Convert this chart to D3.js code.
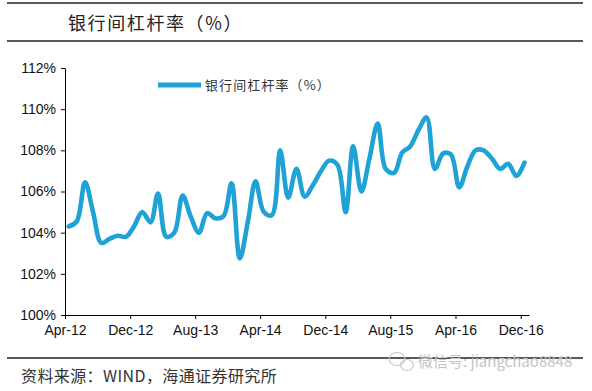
<!DOCTYPE html>
<html>
<head>
<meta charset="utf-8">
<script src="https://cdn.jsdelivr.net/npm/d3@7"></script>
<style>
  body { margin: 0; background: #fff; }
  svg text { font-family: "Liberation Sans", Arial, sans-serif; }
  .cjk { font-family: "Noto Sans CJK SC", sans-serif; }
</style>
</head>
<body>
<div id="chart-area"></div>
<script>

// Monthly interbank leverage ratio, Apr-12 .. Dec-16
var startMonth = new Date(2012, 3, 1),
    endMonth = new Date(2017, 0, 1);

var leverage = [
  104.3, 104.55, 106.45, 105.0, 103.5, 103.7, 103.85, 103.8, 104.3, 105.0,
  104.5, 105.9, 103.8, 104.0, 105.8, 104.8, 104.0, 104.95, 104.7, 104.8,
  106.4, 102.75, 104.6, 106.5, 105.0, 104.85, 108.0, 105.7, 107.1, 105.75,
  106.3, 107.0, 107.5, 107.3, 105.0, 108.2, 106.0, 107.6, 109.3, 107.1,
  106.9, 107.9, 108.2, 109.0, 109.6, 107.1, 107.85, 107.8, 106.2, 107.2,
  108.0, 108.0, 107.6, 107.1, 107.35, 106.75, 107.4
];

var tickLabels = ["Apr-12", "Dec-12", "Aug-13", "Apr-14", "Dec-14", "Aug-15", "Apr-16", "Dec-16"];
var yTicks = [100, 102, 104, 106, 108, 110, 112];

var seriesName = "银行间杠杆率（%）";
var titleText = "银行间杠杆率（%）";
var sourceText = "资料来源：WIND，海通证券研究所";
var watermark = "微信号: jiangchao8848";

var W = 592, H = 391;
var plot = {left: 65, right: 529, top: 68, bottom: 315};
var lineColor = "#1fa2d6";

var svg = d3.select("#chart-area")
    .append("svg")
        .attr("width", W)
        .attr("height", H);

// header rules + title
svg.append("line").attr("x1", 7).attr("x2", 583).attr("y1", 3).attr("y2", 3)
    .attr("stroke", "#222").attr("stroke-width", 1.3);
svg.append("line").attr("x1", 7).attr("x2", 583).attr("y1", 41).attr("y2", 41)
    .attr("stroke", "#222").attr("stroke-width", 1.3);
svg.append("text")
    .attr("class", "cjk")
    .attr("x", 68)
    .attr("y", 30)
    .attr("font-size", "18px")
    .attr("letter-spacing", "1.6px")
    .attr("fill", "#222")
    .text(titleText);

// scales
var months = d3.timeMonth.range(startMonth, endMonth);
var data = months.map(function (m, i) {
    return {date: d3.timeDay.offset(m, 14), value: leverage[i]};
});

var parseLabel = d3.timeParse("%b-%y");
var x = d3.scaleTime()
    .domain([startMonth, endMonth])
    .range([plot.left, plot.right]);

var y = d3.scaleLinear()
    .domain([100, 112])
    .range([plot.bottom, plot.top]);

// X axis
var xAxisCall = d3.axisBottom(x)
    .tickValues(tickLabels.map(function (s) { return parseLabel(s); }))
    .tickFormat(d3.timeFormat("%b-%y"))
    .tickSize(4)
    .tickSizeOuter(0);
var xAxisGroup = svg.append("g")
    .attr("transform", "translate(0," + plot.bottom + ")")
    .call(xAxisCall);
xAxisGroup.selectAll("text")
    .attr("font-size", "14px")
    .attr("fill", "#111")
    .attr("dy", "0.95em");

// Y axis
var yAxisCall = d3.axisLeft(y)
    .tickValues(yTicks)
    .tickFormat(function (d) { return d + "%"; })
    .tickSize(4)
    .tickSizeOuter(0);
var yAxisGroup = svg.append("g")
    .attr("transform", "translate(" + plot.left + ",0)")
    .call(yAxisCall);
yAxisGroup.selectAll("text")
    .attr("font-size", "14px")
    .attr("fill", "#111")
    .attr("x", -9);

svg.selectAll(".domain, .tick line").attr("stroke", "#000");

// the line
var line = d3.line()
    .x(function (d) { return x(d.date); })
    .y(function (d) { return y(d.value); })
    .curve(d3.curveCatmullRom.alpha(0.5));

svg.append("path")
    .datum(data)
    .attr("fill", "none")
    .attr("stroke", lineColor)
    .attr("stroke-width", 4.6)
    .attr("stroke-linejoin", "round")
    .attr("stroke-linecap", "round")
    .attr("d", line);

// legend
svg.append("line")
    .attr("x1", 158).attr("x2", 201).attr("y1", 85).attr("y2", 85)
    .attr("stroke", lineColor).attr("stroke-width", 5);
svg.append("text")
    .attr("class", "cjk")
    .attr("x", 205)
    .attr("y", 89.5)
    .attr("font-size", "13px")
    .attr("letter-spacing", "1.1px")
    .attr("fill", "#333")
    .text(seriesName);

// footer
svg.append("line").attr("x1", 7).attr("x2", 583).attr("y1", 358).attr("y2", 358)
    .attr("stroke", "#222").attr("stroke-width", 1.3);
svg.append("text")
    .attr("class", "cjk")
    .attr("x", 21)
    .attr("y", 382)
    .attr("font-size", "16px")
    .attr("letter-spacing", "0.4px")
    .attr("fill", "#333")
    .text(sourceText);

// watermark
var wm = svg.append("g").attr("fill", "none").attr("stroke", "#c8c8c8").attr("stroke-width", 1.2);
wm.append("ellipse").attr("cx", 397).attr("cy", 359).attr("rx", 8).attr("ry", 6.5);
wm.append("ellipse").attr("cx", 407).attr("cy", 365).attr("rx", 6.5).attr("ry", 5.5);
svg.append("text")
    .attr("class", "cjk")
    .attr("x", 418)
    .attr("y", 367)
    .attr("font-size", "15px")
    .attr("fill", "#c4c4c4")
    .text(watermark);

</script>
</body>
</html>
